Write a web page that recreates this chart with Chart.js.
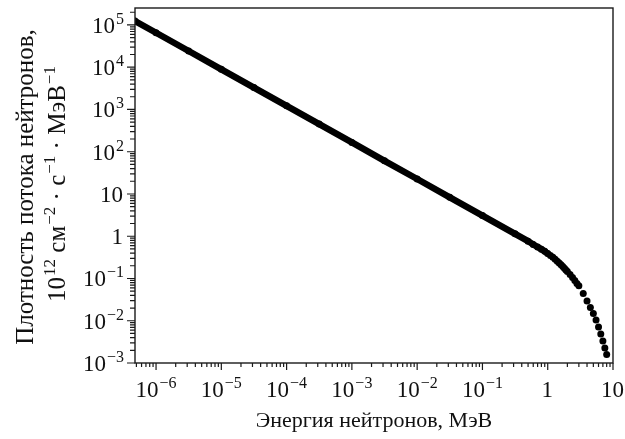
<!DOCTYPE html>
<html>
<head>
<meta charset="utf-8">
<script src="https://cdn.jsdelivr.net/npm/chart.js@4.4.0/dist/chart.umd.min.js"></script>
<style>
  html, body { margin: 0; padding: 0; background: #fff; }
  #wrap { width: 625px; height: 439px; }
</style>
</head>
<body>
<div id="wrap"><canvas id="fluxChart"></canvas></div>
<script>
// Neutron energy, MeV
const energy = [4.76e-7, 1e-6, 3.16e-6, 1e-5, 3.16e-5, 1e-4, 3.16e-4, 1e-3, 3.16e-3, 1e-2, 3.16e-2, 0.1, 0.316,
  0.5, 0.6, 0.7, 0.8, 0.9, 1.0, 1.1, 1.2, 1.3, 1.4, 1.5, 1.6, 1.7, 1.8, 1.9, 2.0, 2.2, 2.4, 2.6, 2.8,
  3.0, 3.5, 4.0, 4.5, 5.0, 5.5, 6.0, 6.5, 7.0, 7.5, 8.0];
// Flux density, 10^12 cm^-2 s^-1 MeV^-1
const flux = [1.24e5, 6.55e4, 2.42e4, 8.9e3, 3.3e3, 1.22e3, 450, 166, 61, 22.6, 8.35, 3.08, 1.14,
  0.766, 0.638, 0.557, 0.494, 0.44, 0.39, 0.352, 0.317, 0.284, 0.257, 0.233, 0.212, 0.192, 0.174, 0.158, 0.147,
  0.124, 0.105, 0.0893, 0.0763, 0.067, 0.0442, 0.0293, 0.0206, 0.0149, 0.0104, 0.00711, 0.00485, 0.00332,
  0.00226, 0.00159];

const xMin = 4.76e-7, xMax = 10;
const yMin = 1e-3, yMax = 2.52e5;

const xTickValues = [1e-6, 1e-5, 1e-4, 1e-3, 1e-2, 1e-1, 1, 10];
const xTickLabels = [['10', '−6'], ['10', '−5'], ['10', '−4'], ['10', '−3'], ['10', '−2'], ['10', '−1'], ['1', ''], ['10', '']];
const yTickValues = [1e-3, 1e-2, 1e-1, 1, 10, 1e2, 1e3, 1e4, 1e5];
const yTickLabels = [['10', '−3'], ['10', '−2'], ['10', '−1'], ['1', ''], ['10', ''], ['10', '2'], ['10', '3'], ['10', '4'], ['10', '5']];

const xTitle = 'Энергия нейтронов, МэВ';
const yTitle1 = 'Плотность потока нейтронов,';
const yTitle2 = [['10', false], ['12', true], [' см', false], ['−2', true], [' · с', false], ['−1', true], [' · МэВ', false], ['−1', true]];

// minor ticks 2..9 in every decade
function minorTicks(fromExp, toExp, lo, hi) {
  const out = [];
  for (let e = fromExp; e <= toExp; e++) {
    for (let m = 2; m <= 9; m++) {
      const v = m * Math.pow(10, e);
      if (v > lo && v < hi) out.push(v);
    }
  }
  return out;
}
const xMinor = minorTicks(-7, 0, xMin, xMax);
const yMinor = minorTicks(-3, 5, yMin, yMax);

const FONT = '"Liberation Serif", "DejaVu Serif", serif';

// draw text made of normal and superscript parts
function drawRich(ctx, parts, x, y, align, size, supSize, raise) {
  let w = 0;
  parts.forEach(([t, sup]) => {
    ctx.font = (sup ? supSize : size) + 'px ' + FONT;
    w += ctx.measureText(t).width + (sup ? 1 : 0);
  });
  let cx = align === 'center' ? x - w / 2 : align === 'right' ? x - w : x;
  ctx.textAlign = 'left';
  ctx.textBaseline = 'alphabetic';
  parts.forEach(([t, sup]) => {
    ctx.font = (sup ? supSize : size) + 'px ' + FONT;
    if (sup) cx += 1;
    ctx.fillText(t, cx, sup ? y - raise : y);
    cx += ctx.measureText(t).width;
  });
}

const axesPlugin = {
  id: 'axesPlugin',
  afterDraw(chart) {
    const { ctx, chartArea: a, scales: { x, y } } = chart;
    ctx.save();
    ctx.strokeStyle = '#1a1a1a';
    ctx.fillStyle = '#111';
    ctx.lineWidth = 1.4;
    ctx.strokeRect(a.left, a.top, a.right - a.left, a.bottom - a.top);

    // ticks
    ctx.lineWidth = 1.2;
    ctx.beginPath();
    xTickValues.forEach(v => { const p = x.getPixelForValue(v); ctx.moveTo(p, a.bottom); ctx.lineTo(p, a.bottom + 7); });
    xMinor.forEach(v => { const p = x.getPixelForValue(v); ctx.moveTo(p, a.bottom); ctx.lineTo(p, a.bottom + 4); });
    yTickValues.forEach(v => { const p = y.getPixelForValue(v); ctx.moveTo(a.left, p); ctx.lineTo(a.left - 8, p); });
    yMinor.forEach(v => { const p = y.getPixelForValue(v); ctx.moveTo(a.left, p); ctx.lineTo(a.left - 5, p); });
    ctx.stroke();

    // tick labels
    xTickValues.forEach((v, i) => {
      const [b, e] = xTickLabels[i];
      drawRich(ctx, [[b, false], [e, true]], x.getPixelForValue(v), a.bottom + 34, 'center', 23, 16, 9);
    });
    yTickValues.forEach((v, i) => {
      const [b, e] = yTickLabels[i];
      drawRich(ctx, [[b, false], [e, true]], a.left - 11, y.getPixelForValue(v) + 8, 'right', 23, 16, 9);
    });

    // axis titles
    drawRich(ctx, [[xTitle, false]], 374, 427, 'center', 22, 15, 8);
    ctx.save();
    ctx.translate(33, 187);
    ctx.rotate(-Math.PI / 2);
    drawRich(ctx, [[yTitle1, false]], 0, 0, 'center', 25, 17, 10);
    ctx.restore();
    ctx.save();
    ctx.translate(65, 184);
    ctx.rotate(-Math.PI / 2);
    drawRich(ctx, yTitle2, 0, 0, 'center', 25, 17, 10);
    ctx.restore();
    ctx.restore();
  }
};

new Chart(document.getElementById('fluxChart'), {
  type: 'scatter',
  data: {
    datasets: [{
      data: energy.map((e, i) => ({ x: e, y: flux[i] })),
      showLine: true,
      borderColor: '#000',
      backgroundColor: '#000',
      borderWidth: 6.5,
      borderCapStyle: 'round',
      borderJoinStyle: 'round',
      pointRadius: 3.5,
      pointHoverRadius: 3.5,
      pointBorderWidth: 0,
      segment: { borderColor: c => (c.p1.parsed.x > 1.05 ? 'rgba(0,0,0,0)' : '#000') },
      clip: { left: 0, top: 0, right: 6, bottom: 6 }
    }]
  },
  options: {
    responsive: true,
    maintainAspectRatio: false,
    animation: false,
    layout: { padding: { top: 8, right: 12, left: 0, bottom: 0 } },
    plugins: { legend: { display: false }, tooltip: { enabled: false } },
    scales: {
      x: {
        type: 'logarithmic', min: xMin, max: xMax,
        ticks: { display: false }, grid: { display: false }, border: { display: false },
        afterFit: s => { s.height = 76; }
      },
      y: {
        type: 'logarithmic', min: yMin, max: yMax,
        ticks: { display: false }, grid: { display: false }, border: { display: false },
        afterFit: s => { s.width = 135; }
      }
    }
  },
  plugins: [axesPlugin]
});
</script>
</body>
</html>
